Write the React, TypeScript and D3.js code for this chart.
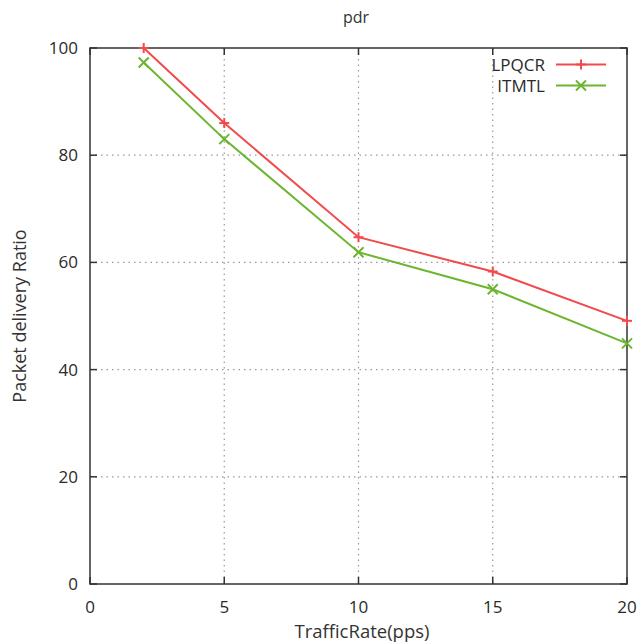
import React from "react";
import * as d3 from "d3";

const xValues = [2, 5, 10, 15, 20];
const lpqcr = [100, 86.0, 64.7, 58.3, 49.1];
const itmtl = [97.3, 83.0, 61.9, 55.0, 44.9];
const xTicks = [0, 5, 10, 15, 20];
const yTicks = [0, 20, 40, 60, 80, 100];
const seriesNames = ["LPQCR", "ITMTL"];
const seriesColors = ["#f24a4a", "#6cb52f"];

const W = 641, H = 644;
const L = 90, R = 627, T = 48, B = 584;

export default function App() {
  const x = d3.scaleLinear().domain([0, 20]).range([L, R]);
  const y = d3.scaleLinear().domain([0, 100]).range([B, T]);
  const line = d3.line<[number, number]>().x(d => x(d[0])).y(d => y(d[1]));
  const data = [lpqcr, itmtl];
  const font = "'Open Sans', 'DejaVu Sans', sans-serif";
  const plus = (cx: number, cy: number, c: string, k: string) => (
    <g key={k} stroke={c} strokeWidth={2}>
      <line x1={cx - 5} x2={cx + 5} y1={cy} y2={cy} />
      <line x1={cx} x2={cx} y1={cy - 5} y2={cy + 5} />
    </g>
  );
  const cross = (cx: number, cy: number, c: string, k: string) => (
    <g key={k} stroke={c} strokeWidth={2}>
      <line x1={cx - 5} x2={cx + 5} y1={cy - 5} y2={cy + 5} />
      <line x1={cx - 5} x2={cx + 5} y1={cy + 5} y2={cy - 5} />
    </g>
  );
  const markers = [plus, cross];
  return (
    <svg width={W} height={H} style={{ position: "absolute", left: 0, top: 0 }} fontFamily={font}>
      <rect width={W} height={H} fill="#fff" />
      {xTicks.filter(t => t > 0 && t < 20).map(t => (
        <line key={"gx" + t} x1={x(t)} x2={x(t)} y1={T} y2={B} stroke="#999" strokeWidth={1.2} strokeDasharray="1.5,4" />
      ))}
      {yTicks.filter(t => t > 0 && t < 100).map(t => (
        <line key={"gy" + t} x1={L} x2={R} y1={y(t)} y2={y(t)} stroke="#999" strokeWidth={1.2} strokeDasharray="1.5,4" />
      ))}
      {xTicks.map(t => (
        <g key={"tx" + t}>
          <line x1={x(t)} x2={x(t)} y1={B} y2={B - 7} stroke="#333" strokeWidth={1.5} />
          <line x1={x(t)} x2={x(t)} y1={T} y2={T + 7} stroke="#333" strokeWidth={1.5} />
          <text x={x(t)} y={613} textAnchor="middle" fontSize={17} fontWeight={500} fill="#2a2a2a">{t}</text>
        </g>
      ))}
      {yTicks.map(t => (
        <g key={"ty" + t}>
          <line x1={L} x2={L + 7} y1={y(t)} y2={y(t)} stroke="#333" strokeWidth={1.5} />
          <line x1={R} x2={R - 7} y1={y(t)} y2={y(t)} stroke="#333" strokeWidth={1.5} />
          <text x={78} y={y(t) + 6} textAnchor="end" fontSize={17} fontWeight={500} fill="#2a2a2a">{t}</text>
        </g>
      ))}
      <rect x={L} y={T} width={R - L} height={B - T} fill="none" stroke="#333" strokeWidth={1.5} />
      {data.map((s, i) => (
        <g key={"s" + i}>
          <path d={line(xValues.map((xv, j) => [xv, s[j]]) as [number, number][]) || ""} fill="none" stroke={seriesColors[i]} strokeWidth={2} />
          {xValues.map((xv, j) => markers[i](x(xv), y(s[j]), seriesColors[i], "m" + i + j))}
        </g>
      ))}
      {seriesNames.map((n, i) => (
        <g key={"lg" + i}>
          <text x={545} y={71 + i * 21} textAnchor="end" fontSize={17} fontWeight={500} fill="#2a2a2a">{n}</text>
          <line x1={556} x2={606} y1={64.5 + i * 21} y2={64.5 + i * 21} stroke={seriesColors[i]} strokeWidth={2} />
          {markers[i](581, 64.5 + i * 21, seriesColors[i], "lm" + i)}
        </g>
      ))}
      <text x={356} y={23} textAnchor="middle" fontSize={16} fill="#333">pdr</text>
      <text x={362} y={638} textAnchor="middle" fontSize={18.5} fontWeight={500} fill="#333">TrafficRate(pps)</text>
      <text transform={`translate(26,316) rotate(-90)`} textAnchor="middle" fontSize={18} fontWeight={500} fill="#333">Packet delivery Ratio</text>
    </svg>
  );
}
